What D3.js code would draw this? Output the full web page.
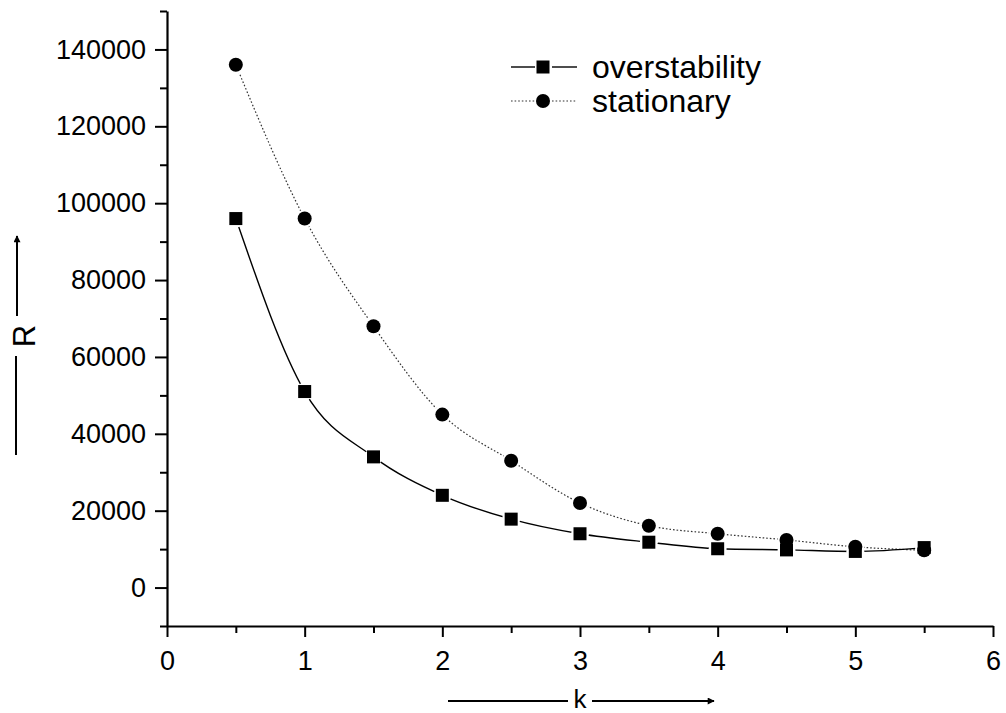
<!DOCTYPE html>
<html>
<head>
<meta charset="utf-8">
<script src="https://cdn.jsdelivr.net/npm/d3@7"></script>
<style>
  html, body { margin: 0; padding: 0; background: #fff; }
  svg { display: block; }
  text { font-family: "Liberation Sans", Arial, Helvetica, sans-serif; fill: #000; }
</style>
</head>
<body>
<svg id="chart" width="1006" height="713"></svg>
<script>
// ---- data ----
const kValues = [0.5, 1, 1.5, 2, 2.5, 3, 3.5, 4, 4.5, 5, 5.5];
const overstability = [96000, 51000, 34000, 24000, 17800, 14000, 11800, 10100, 9800, 9400, 10400];
const stationary = [136000, 96000, 68000, 45000, 33000, 22000, 16100, 14000, 12400, 10600, 9700];
const xTicks = [0, 1, 2, 3, 4, 5, 6];
const xMinorTicks = [0.5, 1.5, 2.5, 3.5, 4.5, 5.5];
const yTicks = [0, 20000, 40000, 60000, 80000, 100000, 120000, 140000];
const yMinorTicks = [-10000, 10000, 30000, 50000, 70000, 90000, 110000, 130000, 150000];
const seriesNames = ["overstability", "stationary"];
const xTitle = "k";
const yTitle = "R";

// ---- layout ----
const svg = d3.select("#chart");
const x = d3.scaleLinear().domain([0, 6]).range([167, 993]);
const y = d3.scaleLinear().domain([-10000, 150000]).range([626, 11]);
const FS = 27;

// arrow marker
svg.append("defs").append("marker")
  .attr("id", "arrow").attr("viewBox", "0 0 10 10")
  .attr("refX", 9).attr("refY", 5)
  .attr("markerWidth", 9).attr("markerHeight", 7)
  .attr("markerUnits", "userSpaceOnUse")
  .attr("orient", "auto")
  .append("path").attr("d", "M0,0 L10,5 L0,10 Z").attr("fill", "#000");

// ---- axes ----
const xAxisY = y(-10000);
const yAxisX = x(0);

const gxMinor = svg.append("g").attr("transform", `translate(0,${xAxisY})`)
  .call(d3.axisBottom(x).tickValues(xMinorTicks).tickSize(7).tickFormat(""));
gxMinor.select(".domain").remove();

const gx = svg.append("g").attr("transform", `translate(0,${xAxisY})`)
  .call(d3.axisBottom(x).tickValues(xTicks).tickSize(11).tickSizeOuter(0).tickPadding(14).tickFormat(d3.format("d")));

const gyMinor = svg.append("g").attr("transform", `translate(${yAxisX},0)`)
  .call(d3.axisLeft(y).tickValues(yMinorTicks).tickSize(7).tickFormat(""));
gyMinor.select(".domain").remove();

const gy = svg.append("g").attr("transform", `translate(${yAxisX},0)`)
  .call(d3.axisLeft(y).tickValues(yTicks).tickSize(12).tickSizeOuter(0).tickPadding(9).tickFormat(d3.format("d")));

[gx, gy, gxMinor, gyMinor].forEach(g => {
  g.selectAll("line").attr("stroke", "#000").attr("stroke-width", 2);
  g.selectAll(".domain").attr("stroke", "#000").attr("stroke-width", 2.2);
  g.selectAll("text").attr("font-size", FS).attr("font-family", '"Liberation Sans", Arial, sans-serif').attr("fill", "#000");
});

// ---- lines ----
const line = d3.line().curve(d3.curveMonotoneX)
  .x((d, i) => x(kValues[i])).y(d => y(d));

svg.append("path").datum(stationary)
  .attr("d", line).attr("fill", "none")
  .attr("stroke", "#333").attr("stroke-width", 1.2)
  .attr("stroke-dasharray", "1.6,2");

svg.append("path").datum(overstability)
  .attr("d", line).attr("fill", "none")
  .attr("stroke", "#000").attr("stroke-width", 1.4);

// halos (gaps in lines near symbols)
const pts = [];
kValues.forEach((k, i) => {
  pts.push({ k, v: overstability[i] });
  pts.push({ k, v: stationary[i] });
});
svg.append("g").selectAll("circle").data(pts).join("circle")
  .attr("cx", d => x(d.k)).attr("cy", d => y(d.v)).attr("r", 9).attr("fill", "#fff");

// ---- markers ----
const SQ = 13, CR = 7;
svg.append("g").selectAll("rect").data(overstability).join("rect")
  .attr("x", (d, i) => x(kValues[i]) - SQ / 2).attr("y", d => y(d) - SQ / 2)
  .attr("width", SQ).attr("height", SQ).attr("fill", "#000");
svg.append("g").selectAll("circle").data(stationary).join("circle")
  .attr("cx", (d, i) => x(kValues[i])).attr("cy", d => y(d)).attr("r", CR).attr("fill", "#000");

// ---- legend ----
const lg = svg.append("g");
const legX = 543, legY = [67, 101];
lg.append("line").attr("x1", legX - 32).attr("x2", legX - 8).attr("y1", legY[0]).attr("y2", legY[0]).attr("stroke", "#000").attr("stroke-width", 1.4);
lg.append("line").attr("x1", legX + 9).attr("x2", legX + 34).attr("y1", legY[0]).attr("y2", legY[0]).attr("stroke", "#000").attr("stroke-width", 1.4);
lg.append("rect").attr("x", legX - SQ / 2).attr("y", legY[0] - SQ / 2).attr("width", SQ).attr("height", SQ).attr("fill", "#000");
lg.append("line").attr("x1", legX - 32).attr("x2", legX - 8).attr("y1", legY[1]).attr("y2", legY[1]).attr("stroke", "#333").attr("stroke-width", 1.2).attr("stroke-dasharray", "1.6,2");
lg.append("line").attr("x1", legX + 9).attr("x2", legX + 34).attr("y1", legY[1]).attr("y2", legY[1]).attr("stroke", "#333").attr("stroke-width", 1.2).attr("stroke-dasharray", "1.6,2");
lg.append("circle").attr("cx", legX).attr("cy", legY[1]).attr("r", CR).attr("fill", "#000");
seriesNames.forEach((n, i) => {
  lg.append("text").attr("x", legX + 49).attr("y", legY[i]).attr("dy", "0.35em")
    .attr("font-size", 32).text(n);
});

// ---- axis titles ----
// y title: R with line and arrow
svg.append("line").attr("x1", 16).attr("x2", 16).attr("y1", 455).attr("y2", 356)
  .attr("stroke", "#000").attr("stroke-width", 2);
svg.append("line").attr("x1", 17).attr("x2", 17).attr("y1", 316).attr("y2", 236)
  .attr("stroke", "#000").attr("stroke-width", 2).attr("marker-end", "url(#arrow)");
svg.append("text").attr("transform", "translate(35,336) rotate(-90)")
  .attr("text-anchor", "middle").attr("font-size", 31).text(yTitle);

// x title: k with line and arrow
svg.append("line").attr("x1", 448).attr("x2", 568).attr("y1", 701).attr("y2", 701)
  .attr("stroke", "#000").attr("stroke-width", 2);
svg.append("line").attr("x1", 592).attr("x2", 714).attr("y1", 701).attr("y2", 701)
  .attr("stroke", "#000").attr("stroke-width", 2).attr("marker-end", "url(#arrow)");
svg.append("text").attr("x", 580).attr("y", 708)
  .attr("text-anchor", "middle").attr("font-size", 26).text(xTitle);
</script>
</body>
</html>
